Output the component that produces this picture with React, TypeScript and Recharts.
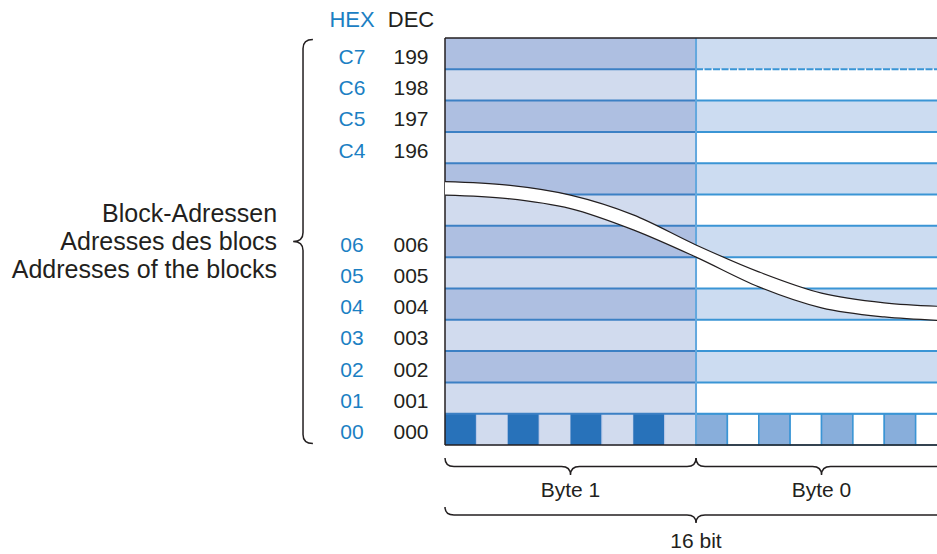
import { Area, ComposedChart, ReferenceArea, ReferenceLine, XAxis, YAxis } from "recharts";

const FONT = '"Liberation Sans", Arial, Helvetica, sans-serif';
const INK = "#231f20";
const HEX_BLUE = "#1b80c3";

// rows from the bottom (00) to the top (C7); the two empty rows are the break
const HEX = ["00", "01", "02", "03", "04", "05", "06", "", "", "C4", "C5", "C6", "C7"];
const DEC = ["000", "001", "002", "003", "004", "005", "006", "", "", "196", "197", "198", "199"];
// 1 = darker stripe
const STRIPE = [0, 0, 1, 0, 1, 0, 1, 0, 1, 0, 1, 0, 1];
// block 00, bit 15 .. bit 0
const BITS = [1, 0, 1, 0, 1, 0, 1, 0, 1, 0, 1, 0, 1, 0, 1, 0];

const ROWS = HEX.length;
const WORD_BITS = BITS.length;
const BYTE_BITS = 8;
const VISIBLE_BITS = 15.68;

// the break drawn across the memory, in bits / rows
const BAND_X = [0, 2, 4, 6, 8, 10, 12, 14, 16];
const BAND_TOP = [8.41, 8.3, 7.98, 7.35, 6.39, 5.53, 4.85, 4.54, 4.42];
const BAND_BOTTOM = [7.98, 7.87, 7.55, 6.87, 6.0, 5.05, 4.38, 4.09, 3.97];

const BYTES = ["Byte 1", "Byte 0"];
const WORD_LABEL = "16 bit";
const SIDE_LABELS = ["Block-Adressen", "Adresses des blocs", "Addresses of the blocks"];

const BYTE1_FILL = ["#d1dbee", "#aebfe1"];
const BYTE0_FILL = ["#ffffff", "#ccdcf1"];
const BIT_ON = ["#2872ba", "#88aedb"];
const BIT_OFF = ["#d1dbee", "#ffffff"];

const bandData = BAND_X.map((x, i) => ({ x, band: [BAND_BOTTOM[i], BAND_TOP[i]] }));
const rowTicks = HEX.map((_, r) => r + 0.5);

function RowTick({ y, payload }: any) {
  const r = Math.floor(payload.value);
  if (!HEX[r]) return <g />;
  return (
    <g fontFamily={FONT} fontSize={21}>
      <text x={352} y={y + 10} textAnchor="middle" fill={HEX_BLUE}>{HEX[r]}</text>
      <text x={411} y={y + 10} textAnchor="middle" fill={INK}>{DEC[r]}</text>
    </g>
  );
}

function Header({ viewBox }: any) {
  const top = viewBox?.y ?? 38;
  return (
    <g fontFamily={FONT} fontSize={22}>
      <text x={352} y={top - 11} textAnchor="middle" fill={HEX_BLUE}>HEX</text>
      <text x={411} y={top - 11} textAnchor="middle" fill={INK}>DEC</text>
    </g>
  );
}

function HBrace({ x, y, width, height, label, labelGap }: any) {
  const r = 9;
  const ym = y + height * 0.5;
  const xm = x + width / 2;
  const b = y + height;
  const d = `M${x},${y} Q${x},${ym} ${x + r},${ym} L${xm - r},${ym} Q${xm},${ym} ${xm},${b}` +
    ` Q${xm},${ym} ${xm + r},${ym} L${x + width - r},${ym} Q${x + width},${ym} ${x + width},${y}`;
  return (
    <g>
      <path d={d} fill="none" stroke={INK} strokeWidth={1.5} />
      <text x={xm} y={y + labelGap} textAnchor="middle" fontFamily={FONT} fontSize={21} fill={INK}>{label}</text>
    </g>
  );
}

function VBrace({ x, y, width, height }: any) {
  const r = 9;
  const xr = x + width;
  const xs = x + width / 2;
  const ym = y + height / 2;
  const b = y + height;
  const d = `M${xr},${y} Q${xs},${y} ${xs},${y + r} L${xs},${ym - r} Q${xs},${ym} ${x},${ym}` +
    ` Q${xs},${ym} ${xs},${ym + r} L${xs},${b - r} Q${xs},${b} ${xr},${b}`;
  return (
    <g>
      <path d={d} fill="none" stroke={INK} strokeWidth={1.5} />
      <text fontFamily={FONT} fontSize={25} fill={INK} textAnchor="end">
        {SIDE_LABELS.map((t, i) => (
          <tspan key={t} x={x - 16} y={ym - 20 + i * 28}>{t}</tspan>
        ))}
      </text>
    </g>
  );
}

export default function App() {
  const cells: any[] = [];
  STRIPE.forEach((s, r) => {
    if (r === 0) return;
    cells.push(
      <ReferenceArea key={`l${r}`} x1={0} x2={BYTE_BITS} y1={r} y2={r + 1}
        fill={BYTE1_FILL[s]} fillOpacity={1} stroke="none" ifOverflow="visible" />,
      <ReferenceArea key={`r${r}`} x1={BYTE_BITS} x2={WORD_BITS} y1={r} y2={r + 1}
        fill={BYTE0_FILL[s]} fillOpacity={1} stroke="none" ifOverflow="visible" />
    );
  });
  BITS.forEach((b, i) => {
    const byte = i < BYTE_BITS ? 0 : 1;
    cells.push(
      <ReferenceArea key={`b${i}`} x1={i} x2={i + 1} y1={0} y2={1}
        fill={b ? BIT_ON[byte] : BIT_OFF[byte]} fillOpacity={1}
        stroke={byte ? "#3a95d5" : b ? "none" : "#b9c8e8"} strokeWidth={byte ? 1.5 : 1}
        ifOverflow="visible" />
    );
  });

  const lines: any[] = [];
  for (let k = 1; k < ROWS; k++) {
    lines.push(
      <ReferenceLine key={`sl${k}`} segment={[{ x: 0, y: k }, { x: BYTE_BITS, y: k }]}
        stroke="#3c80c4" strokeWidth={2} ifOverflow="visible" />,
      <ReferenceLine key={`sr${k}`} segment={[{ x: BYTE_BITS, y: k }, { x: WORD_BITS, y: k }]}
        stroke="#3a95d5" strokeWidth={2} strokeDasharray={k === ROWS - 1 ? "7 1.5" : undefined}
        ifOverflow="visible" />
    );
  }

  return (
    <div style={{ position: "fixed", left: 0, top: 0, width: 937, height: 554, background: "#fff" }}>
      <ComposedChart width={937} height={554} data={bandData}
        margin={{ top: 38, right: 0, bottom: 109, left: 300 }}>
        <XAxis type="number" dataKey="x" domain={[0, VISIBLE_BITS]} allowDataOverflow hide />
        <YAxis type="number" domain={[0, ROWS]} ticks={rowTicks} interval={0} width={145}
          axisLine={false} tickLine={false} tick={<RowTick />} label={{ content: <Header /> }} />
        {cells}
        {lines}
        <ReferenceLine segment={[{ x: BYTE_BITS, y: 0 }, { x: BYTE_BITS, y: ROWS }]}
          stroke="#62a8de" strokeWidth={2} ifOverflow="visible" />
        <ReferenceLine segment={[{ x: 0, y: ROWS }, { x: WORD_BITS, y: ROWS }]}
          stroke={INK} strokeWidth={1.5} ifOverflow="visible" />
        <ReferenceLine segment={[{ x: 0, y: 0 }, { x: WORD_BITS, y: 0 }]}
          stroke={INK} strokeWidth={1.5} ifOverflow="visible" />
        <ReferenceLine segment={[{ x: 0, y: 0 }, { x: 0, y: ROWS }]}
          stroke={INK} strokeWidth={1.5} ifOverflow="visible" />
        <Area type="monotone" dataKey="band" fill="#ffffff" fillOpacity={1} stroke={INK}
          strokeWidth={1.2} dot={false} activeDot={false} isAnimationActive={false} zIndex={3000} />
        <ReferenceArea x1={0} x2={BYTE_BITS} y1={-0.96} y2={-0.415} ifOverflow="visible"
          shape={(p: any) => <HBrace {...p} label={BYTES[0]} labelGap={39} />} />
        <ReferenceArea x1={BYTE_BITS} x2={WORD_BITS} y1={-0.96} y2={-0.415} ifOverflow="visible"
          shape={(p: any) => <HBrace {...p} label={BYTES[1]} labelGap={39} />} />
        <ReferenceArea x1={0} x2={WORD_BITS} y1={-2.49} y2={-1.98} ifOverflow="visible"
          shape={(p: any) => <HBrace {...p} label={WORD_LABEL} labelGap={41} />} />
        <ReferenceArea x1={-4.84} x2={-4.21} y1={0.05} y2={12.95} ifOverflow="visible"
          shape={(p: any) => <VBrace {...p} />} />
      </ComposedChart>
    </div>
  );
}
